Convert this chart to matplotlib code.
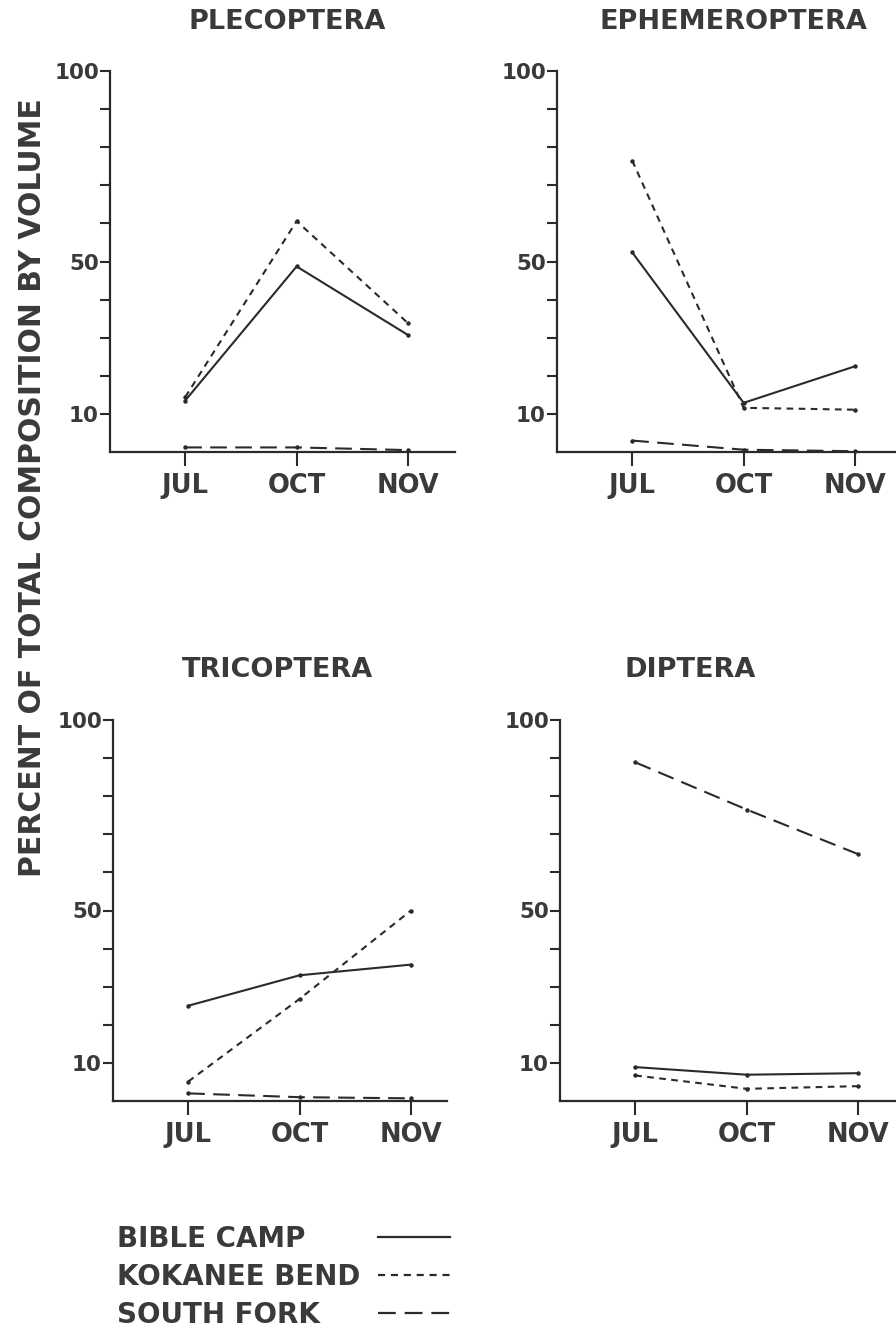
import matplotlib
matplotlib.use("Agg")
import matplotlib.pyplot as plt
from matplotlib.lines import Line2D

# values (percent of total composition by volume)
MONTHS = ["JUL", "OCT", "NOV"]
SITES = ["BIBLE CAMP", "KOKANEE BEND", "SOUTH FORK"]

plecoptera_bible = [13.5, 48.7, 30.7]
plecoptera_kokanee = [14.4, 60.6, 33.8]
plecoptera_south = [1.2, 1.2, 0.5]

ephemeroptera_bible = [52.4, 12.9, 22.5]
ephemeroptera_kokanee = [76.5, 11.6, 11.1]
ephemeroptera_south = [3.0, 0.6, 0.2]

tricoptera_bible = [25.0, 33.0, 35.8]
tricoptera_kokanee = [5.1, 26.8, 50.0]
tricoptera_south = [2.0, 1.0, 0.7]

diptera_bible = [8.9, 6.9, 7.3]
diptera_kokanee = [6.7, 3.2, 3.9]
diptera_south = [88.9, 76.5, 64.8]

YTICKS = list(range(10, 101, 10))
YTICK_LABELS = ["10", "", "", "", "50", "", "", "", "", "100"]

INK = "#2a2a2a"
TXT = "#3a3a3a"
STYLES = ["-", (0, (3.2, 2.6)), (0, (8, 4))]

W, H = 896, 1334
plt.rcParams.update({"font.family": "DejaVu Sans", "font.weight": "bold"})
fig = plt.figure(figsize=(W / 100, H / 100), dpi=100)
fig.patch.set_facecolor("white")


def panel(left, top, right, title, tcx, tcy, series):
    # left/top/right in pixels; y range 0..100 spans 381 px
    bottom = top + 381
    ax = fig.add_axes([left / W, 1 - bottom / H, (right - left) / W, 381 / H])
    x = list(range(len(MONTHS)))
    for vals, ls in zip(series, STYLES):
        ax.plot(x, vals, color=INK, lw=1.5, ls=ls, marker="o", ms=2.2,
                clip_on=False)
    ax.set_xlim(-0.675, 2 + (right - left - 298) / 111.5)
    ax.set_ylim(0, 100)
    ax.set_yticks(YTICKS, YTICK_LABELS)
    ax.set_xticks(x, MONTHS)
    for s in ("top", "right"):
        ax.spines[s].set_visible(False)
    for s in ("left", "bottom"):
        ax.spines[s].set_linewidth(1.6)
        ax.spines[s].set_color(INK)
    ax.tick_params(axis="y", direction="out", length=7.5, width=1.5,
                   color=INK, labelsize=15.5, labelcolor=TXT, pad=0.5)
    ax.tick_params(axis="x", direction="out", length=10, width=1.5,
                   color=INK, labelsize=18.5, labelcolor=TXT, pad=5)
    ax.patch.set_alpha(0)
    fig.text(tcx / W, 1 - tcy / H, title, ha="center", va="center",
             fontsize=19.5, color=TXT, fontweight="bold")
    return ax


panel(110, 71, 455, "PLECOPTERA", 287, 22,
      [plecoptera_bible, plecoptera_kokanee, plecoptera_south])
panel(557, 71, 902, "EPHEMEROPTERA", 733, 22,
      [ephemeroptera_bible, ephemeroptera_kokanee, ephemeroptera_south])
panel(113, 720, 447, "TRICOPTERA", 277, 670,
      [tricoptera_bible, tricoptera_kokanee, tricoptera_south])
panel(560, 720, 905, "DIPTERA", 690, 670,
      [diptera_bible, diptera_kokanee, diptera_south])

fig.text(33 / W, 1 - 488 / H, "PERCENT OF TOTAL COMPOSITION BY VOLUME",
         rotation=90, ha="center", va="center", fontsize=21.5, color=TXT,
         fontweight="bold")

# legend: names on the left, line samples on the right
for i, (name, ls) in enumerate(zip(SITES, STYLES)):
    yc = 1 - (1239 + 38 * i) / H
    fig.text(117 / W, yc, name, ha="left", va="center", fontsize=20,
             color=TXT, fontweight="bold")
    fig.add_artist(Line2D([378 / W, 450 / W], [yc + 2 / H, yc + 2 / H],
                          transform=fig.transFigure, color=INK, lw=1.6, ls=ls))

fig.savefig("out.png", dpi=100, facecolor="white")
